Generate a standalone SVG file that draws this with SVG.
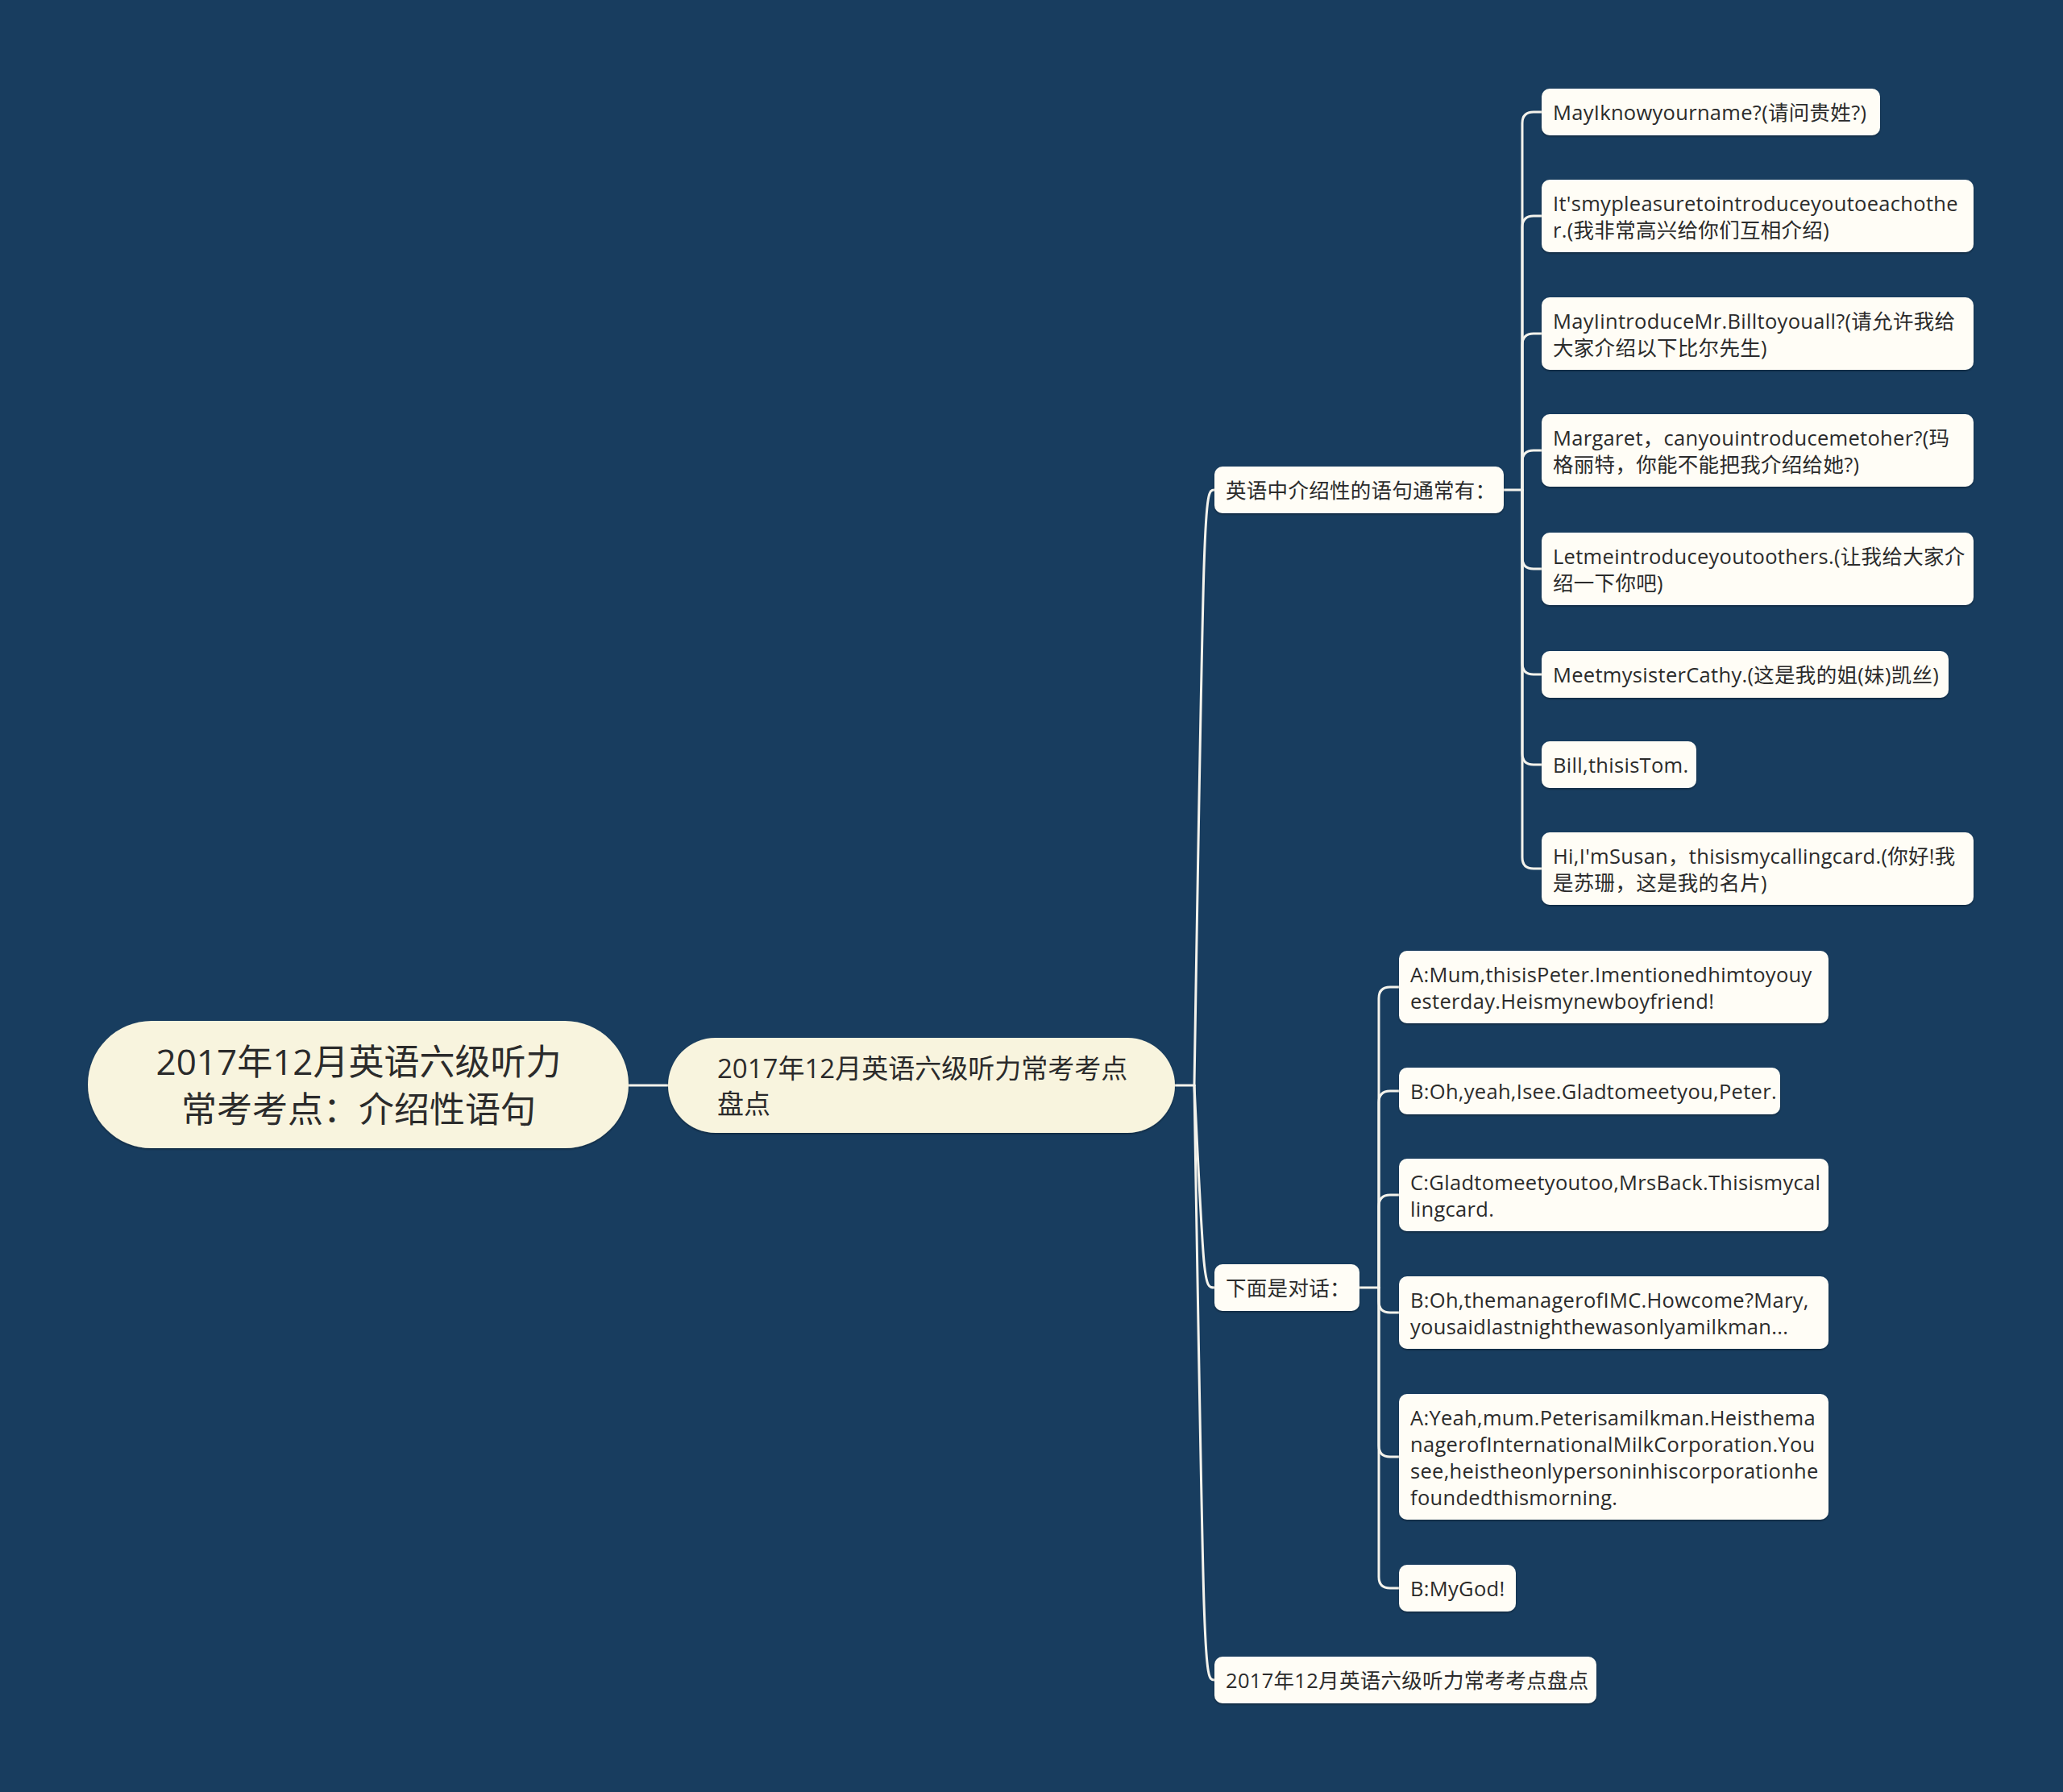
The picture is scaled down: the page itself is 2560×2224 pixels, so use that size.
<svg xmlns="http://www.w3.org/2000/svg" width="2560" height="2224" viewBox="0 0 2560 2224">
<defs>
<style>
.bg{fill:#183d5f}
.cn{fill:none;stroke:#f4f3ec;stroke-width:3;stroke-linecap:round}
.root{fill:#f8f4de}
.sub{fill:#f8f4de}
.box{fill:#fffdf6}
.t{font-family:"Open Sans","Noto Sans CJK SC",sans-serif;fill:#2b2b2b;dominant-baseline:central}
.t44{font-size:44px}
.t33{font-size:33px}
.t25{font-size:25.5px;letter-spacing:0.3px}
</style>
<filter id="sh" x="-5%" y="-10%" width="110%" height="130%">
<feDropShadow dx="0" dy="1.5" stdDeviation="1" flood-color="#000" flood-opacity="0.35"/>
</filter>
</defs>
<rect class="bg" x="0" y="0" width="2560" height="2224"/>

<g id="connectors">
<path class="cn" d="M780 1347 H829"/>
<path class="cn" d="M1458 1347 H1482"/>
<path class="cn" d="M1482 1347 C1494 608 1494 608 1507 608"/>
<path class="cn" d="M1482 1347 C1494 1598 1494 1598 1507 1598"/>
<path class="cn" d="M1482 1347 C1494 2085 1494 2085 1507 2085"/>
<path class="cn" d="M1865 608 H1889"/>
<path class="cn" d="M1889 608 V153 Q1889 139 1903 139 H1913"/>
<path class="cn" d="M1889 608 V282 Q1889 268 1903 268 H1913"/>
<path class="cn" d="M1889 608 V428 Q1889 414 1903 414 H1913"/>
<path class="cn" d="M1889 608 V573 Q1889 559 1903 559 H1913"/>
<path class="cn" d="M1889 608 V692 Q1889 706 1903 706 H1913"/>
<path class="cn" d="M1889 608 V823 Q1889 837 1903 837 H1913"/>
<path class="cn" d="M1889 608 V935 Q1889 949 1903 949 H1913"/>
<path class="cn" d="M1889 608 V1064 Q1889 1078 1903 1078 H1913"/>
<path class="cn" d="M1687 1598 H1711"/>
<path class="cn" d="M1711 1598 V1239 Q1711 1225 1725 1225 H1736"/>
<path class="cn" d="M1711 1598 V1368 Q1711 1354 1725 1354 H1736"/>
<path class="cn" d="M1711 1598 V1497 Q1711 1483 1725 1483 H1736"/>
<path class="cn" d="M1711 1598 V1615 Q1711 1629 1725 1629 H1736"/>
<path class="cn" d="M1711 1598 V1794 Q1711 1808 1725 1808 H1736"/>
<path class="cn" d="M1711 1598 V1957 Q1711 1971 1725 1971 H1736"/>
</g>

<g id="root">
<rect class="root" x="109" y="1267" width="671" height="158" rx="79" filter="url(#sh)"/>
<text class="t t44" x="445" text-anchor="middle"><tspan x="445" y="1317">2017年12月英语六级听力</tspan><tspan x="445" y="1376">常考考点：介绍性语句</tspan></text>
</g>

<g id="subject">
<rect class="sub" x="829" y="1288" width="629" height="118" rx="59" filter="url(#sh)"/>
<text class="t t33"><tspan x="890" y="1325">2017年12月英语六级听力常考考点</tspan><tspan x="890" y="1369">盘点</tspan></text>
</g>

<g id="n-intro">
<rect class="box" x="1507" y="579" width="359" height="58" rx="10" filter="url(#sh)"/>
<text class="t t25" x="1521" y="608">英语中介绍性的语句通常有：</text>
</g>
<g id="n-dialog">
<rect class="box" x="1507" y="1569" width="180" height="58" rx="10" filter="url(#sh)"/>
<text class="t t25" x="1521" y="1598">下面是对话：</text>
</g>
<g id="n-summary">
<rect class="box" x="1507" y="2056" width="474" height="58" rx="10" filter="url(#sh)"/>
<text class="t t25" x="1521" y="2085">2017年12月英语六级听力常考考点盘点</text>
</g>

<g id="a1">
<rect class="box" x="1913" y="110" width="420" height="58" rx="10" filter="url(#sh)"/>
<text class="t t25" x="1927" y="139">MayIknowyourname?(请问贵姓?)</text>
</g>
<g id="a2">
<rect class="box" x="1913" y="223" width="536" height="90" rx="10" filter="url(#sh)"/>
<text class="t t25"><tspan x="1927" y="251.5">It'smypleasuretointroduceyoutoeachothe</tspan><tspan x="1927" y="284.5">r.(我非常高兴给你们互相介绍)</tspan></text>
</g>
<g id="a3">
<rect class="box" x="1913" y="369" width="536" height="90" rx="10" filter="url(#sh)"/>
<text class="t t25"><tspan x="1927" y="397.5">MayIintroduceMr.Billtoyouall?(请允许我给</tspan><tspan x="1927" y="430.5">大家介绍以下比尔先生)</tspan></text>
</g>
<g id="a4">
<rect class="box" x="1913" y="514" width="536" height="90" rx="10" filter="url(#sh)"/>
<text class="t t25"><tspan x="1927" y="542.5">Margaret，canyouintroducemetoher?(玛</tspan><tspan x="1927" y="575.5">格丽特，你能不能把我介绍给她?)</tspan></text>
</g>
<g id="a5">
<rect class="box" x="1913" y="661" width="536" height="90" rx="10" filter="url(#sh)"/>
<text class="t t25"><tspan x="1927" y="689.5">Letmeintroduceyoutoothers.(让我给大家介</tspan><tspan x="1927" y="722.5">绍一下你吧)</tspan></text>
</g>
<g id="a6">
<rect class="box" x="1913" y="808" width="505" height="58" rx="10" filter="url(#sh)"/>
<text class="t t25" x="1927" y="837">MeetmysisterCathy.(这是我的姐(妹)凯丝)</text>
</g>
<g id="a7">
<rect class="box" x="1913" y="920" width="192" height="58" rx="10" filter="url(#sh)"/>
<text class="t t25" x="1927" y="949">Bill,thisisTom.</text>
</g>
<g id="a8">
<rect class="box" x="1913" y="1033" width="536" height="90" rx="10" filter="url(#sh)"/>
<text class="t t25"><tspan x="1927" y="1061.5">Hi,I'mSusan，thisismycallingcard.(你好!我</tspan><tspan x="1927" y="1094.5">是苏珊，这是我的名片)</tspan></text>
</g>

<g id="b1">
<rect class="box" x="1736" y="1180" width="533" height="90" rx="10" filter="url(#sh)"/>
<text class="t t25"><tspan x="1750" y="1208.5">A:Mum,thisisPeter.Imentionedhimtoyouy</tspan><tspan x="1750" y="1241.5">esterday.Heismynewboyfriend!</tspan></text>
</g>
<g id="b2">
<rect class="box" x="1736" y="1325" width="473" height="58" rx="10" filter="url(#sh)"/>
<text class="t t25" x="1750" y="1354">B:Oh,yeah,Isee.Gladtomeetyou,Peter.</text>
</g>
<g id="b3">
<rect class="box" x="1736" y="1438" width="533" height="90" rx="10" filter="url(#sh)"/>
<text class="t t25"><tspan x="1750" y="1466.5">C:Gladtomeetyoutoo,MrsBack.Thisismycal</tspan><tspan x="1750" y="1499.5">lingcard.</tspan></text>
</g>
<g id="b4">
<rect class="box" x="1736" y="1584" width="533" height="90" rx="10" filter="url(#sh)"/>
<text class="t t25"><tspan x="1750" y="1612.5">B:Oh,themanagerofIMC.Howcome?Mary,</tspan><tspan x="1750" y="1645.5">yousaidlastnighthewasonlyamilkman...</tspan></text>
</g>
<g id="b5">
<rect class="box" x="1736" y="1730" width="533" height="156" rx="10" filter="url(#sh)"/>
<text class="t t25"><tspan x="1750" y="1758.5">A:Yeah,mum.Peterisamilkman.Heisthema</tspan><tspan x="1750" y="1791.5">nagerofInternationalMilkCorporation.You</tspan><tspan x="1750" y="1824.5">see,heistheonlypersoninhiscorporationhe</tspan><tspan x="1750" y="1857.5">foundedthismorning.</tspan></text>
</g>
<g id="b6">
<rect class="box" x="1736" y="1942" width="145" height="58" rx="10" filter="url(#sh)"/>
<text class="t t25" x="1750" y="1971">B:MyGod!</text>
</g>
</svg>
